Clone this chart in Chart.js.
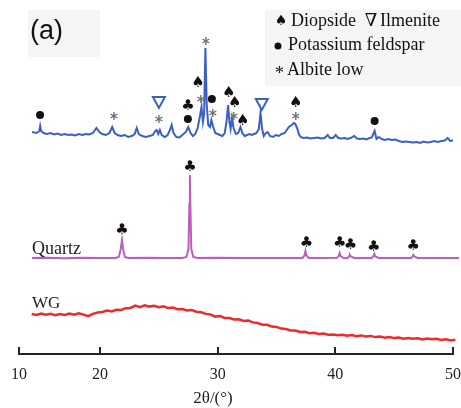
<!DOCTYPE html>
<html>
<head>
<meta charset="utf-8">
<script src="https://cdn.jsdelivr.net/npm/chart.js@4.4.0/dist/chart.umd.min.js"></script>
<style>
  html, body { margin: 0; padding: 0; background: #fff; }
  #wrap { width: 461px; height: 408px; position: relative; }
</style>
</head>
<body>
<div id="wrap"><canvas id="xrdChart"></canvas></div>
<script>
// x axis: the drawn axis starts a little above 13 but is labelled 10
const xTickValues = [13.12, 20, 30, 40, 50];
const xTickLabels = ['10', '20', '30', '40', '50'];

// sample (a) pattern, intensity in a.u. (offset stack)
const sampleTheta = [14.23, 14.6, 14.85, 14.92, 15.0, 15.2, 15.5, 15.8, 16.1, 16.4, 16.7, 17.0, 17.3, 17.6, 17.9, 18.2, 18.5, 18.8, 19.1, 19.4,
  19.7, 19.95, 20.2, 20.5, 20.8, 21.04, 21.25, 21.5, 21.8, 22.1, 22.4, 22.7, 22.95, 23.12, 23.3, 23.6, 23.9, 24.2, 24.5, 24.7,
  24.82, 24.95, 25.09, 25.25, 25.5, 25.75, 25.95, 26.09, 26.25, 26.5, 26.75, 27.0, 27.3, 27.5, 27.7, 27.9, 28.1, 28.3, 28.5, 28.63,
  28.75, 28.85, 28.96, 29.07, 29.2, 29.35, 29.47, 29.6, 29.8, 30.0, 30.2, 30.4, 30.6, 30.75, 30.89, 31.0, 31.1, 31.22, 31.35, 31.55,
  31.75, 31.94, 32.1, 32.3, 32.5, 32.7, 32.9, 33.1, 33.3, 33.5, 33.64, 33.78, 33.92, 34.1, 34.25, 34.45, 34.7, 34.95, 35.2, 35.45,
  35.7, 35.87, 36.05, 36.3, 36.47, 36.6, 36.75, 36.9, 37.05, 37.3, 37.6, 37.9, 38.2, 38.5, 38.8, 39.1, 39.35, 39.55, 39.8, 40.03,
  40.25, 40.5, 40.8, 41.05, 41.3, 41.6, 41.85, 42.1, 42.4, 42.65, 42.9, 43.1, 43.34, 43.5, 43.7, 43.95, 44.2, 44.5, 44.8, 45.1,
  45.4, 45.7, 46.0, 46.3, 46.6, 46.9, 47.2, 47.5, 47.8, 48.1, 48.4, 48.7, 49.0, 49.3, 49.55, 49.75, 50.0, 50.3];
const sampleIntensity = [222, 221, 223, 228, 223, 221, 220, 221, 219.5, 220.5, 219, 220, 219, 219.5, 218.5, 220, 219, 220, 219.5, 221,
  226, 222, 220, 219, 221, 227, 221, 219, 218, 219, 217, 218, 220, 226, 220, 218, 217, 218, 219, 223,
  224, 220, 224, 219, 217, 219, 224, 229, 221, 217, 216.5, 219, 222, 227, 221, 218, 220, 226, 238, 247,
  232, 240, 306, 250, 229, 227, 234, 228, 221, 220, 219, 218, 221, 232, 249, 232, 225, 236, 226, 220,
  221, 227, 221, 218, 219, 220, 219, 220, 221, 225, 241, 225, 218, 221, 222, 218, 217, 219, 218, 220,
  221, 224, 227, 229, 231, 230, 226, 220, 217, 216, 216.5, 215.5, 216, 216.5, 215.5, 216, 219, 216, 216, 219,
  216, 215.5, 216, 215, 216, 218, 215.5, 215, 215.5, 214.5, 216, 216.5, 223, 215, 217, 215, 214, 215, 214, 214.5,
  213, 212, 212.5, 212, 211.5, 212, 211, 212.5, 211.5, 212, 213, 212, 213, 213.5, 216, 213, 213.5, 213];

// quartz reference pattern
const quartzTheta = [14.23, 15.5, 17, 18.5, 20, 21.3, 21.6, 21.75, 21.87, 21.98, 22.12, 22.4, 24, 25.5, 27.0, 27.35, 27.52, 27.6, 27.64, 27.68,
  27.76, 27.93, 28.3, 30, 32, 34, 36, 37.2, 37.38, 37.46, 37.55, 37.75, 39, 40.15, 40.3, 40.37, 40.45, 40.7, 41.05, 41.18,
  41.24, 41.32, 41.6, 43.1, 43.25, 43.32, 43.4, 43.7, 45, 46.45, 46.58, 46.63, 46.7, 47, 48.5, 50.5];
const quartzIntensity = [96, 96.3, 95.8, 96.2, 96, 96.1, 97, 104, 114, 104, 97, 96, 96.2, 95.9, 96, 97, 105, 150, 179, 150,
  105, 97, 96, 96.2, 95.9, 96.1, 96, 96.1, 98.5, 103, 98.5, 96, 96, 96.2, 98.5, 101, 98, 96, 96.1, 98,
  99, 97.5, 96, 96, 98, 100, 97.5, 96, 96.1, 96, 98, 99, 97.5, 96, 96.1, 96];

// WG (amorphous hump)
const wgTheta = [14.2, 14.6, 15.0, 15.4, 15.8, 16.2, 16.6, 17.0, 17.4, 17.8, 18.2, 18.6, 19.0, 19.4, 19.8, 20.2, 20.6, 21.0, 21.4, 21.8,
  22.2, 22.6, 23.0, 23.4, 23.8, 24.2, 24.6, 25.0, 25.4, 25.8, 26.2, 26.6, 27.0, 27.4, 27.8, 28.2, 28.6, 29.0, 29.4, 29.8,
  30.2, 30.6, 31.0, 31.4, 31.8, 32.2, 32.6, 33.0, 33.4, 33.8, 34.2, 34.6, 35.0, 35.4, 35.8, 36.2, 36.6, 37.0, 37.4, 37.8,
  38.2, 38.6, 39.0, 39.4, 39.8, 40.2, 40.6, 41.0, 41.4, 41.8, 42.2, 42.6, 43.0, 43.4, 43.8, 44.2, 44.6, 45.0, 45.4, 45.8,
  46.2, 46.6, 47.0, 47.4, 47.8, 48.2, 48.6, 49.0, 49.4, 49.8, 50.2];
const wgIntensity = [40, 39, 40.5, 39.2, 40.3, 38.8, 40, 39.1, 40.4, 39.3, 40.6, 39.4, 37.8, 40.2, 41.5, 42.1, 43.4, 42.6, 44.3, 44.0,
  45.8, 46.1, 48.4, 46.9, 48.6, 47.4, 48.3, 46.8, 47.6, 45.9, 46.4, 44.7, 45.0, 43.6, 43.9, 42.2, 41.8, 40.1, 39.5, 37.4,
  37.9, 36.1, 35.9, 34.6, 34.8, 33.1, 33.4, 31.6, 31.0, 29.3, 29.2, 27.4, 27.1, 25.4, 25.0, 23.6, 23.5, 22.1, 22.3, 20.8,
  21.2, 20.1, 20.4, 19.2, 19.6, 18.7, 19.3, 18.2, 18.9, 17.8, 18.6, 17.5, 18.1, 16.9, 17.4, 16.3, 17.0, 15.9, 16.4, 15.3,
  16.1, 15.2, 15.8, 14.6, 15.5, 14.7, 15.2, 14.1, 14.8, 13.6, 14.2];

// phase marks [2theta, height]
const diopsideMarks = [[28.32, 271], [30.95, 261], [31.46, 251], [32.14, 233], [36.64, 251]];
const ilmeniteMarks = [[25.01, 252], [33.75, 250]];
const feldsparMarks = [[14.91, 239], [27.47, 235], [29.51, 255], [43.34, 233]];
const albiteMarks = [[21.19, 238], [25.01, 235], [28.57, 255], [29.0, 313], [29.59, 241], [31.38, 238], [36.64, 238]];
const quartzMarks = [[27.47, 248], [21.87, 124], [27.64, 187], [37.54, 111], [40.37, 111], [41.28, 109], [43.26, 107], [46.63, 108]];

const BLUE = '#3b5fc4';
const SERIF = '"Liberation Serif", "DejaVu Serif", serif';

function toPoints(xs, ys) {
    return xs.map((x, i) => ({ x: x, y: ys[i] }));
}

function drawSuit(ctx, ch, px, py, size) {
    ctx.font = size + 'px "DejaVu Sans"';
    ctx.fillStyle = '#111';
    ctx.textAlign = 'center';
    ctx.textBaseline = 'middle';
    ctx.fillText(ch, px, py);
}

function drawDot(ctx, px, py, r) {
    ctx.fillStyle = '#111';
    ctx.beginPath();
    ctx.arc(px, py, r, 0, Math.PI * 2);
    ctx.fill();
}

function drawStar(ctx, px, py) {
    ctx.strokeStyle = '#707070';
    ctx.lineWidth = 1.4;
    ctx.beginPath();
    for (let k = 0; k < 3; k++) {
        const a = Math.PI / 2 + k * Math.PI / 3;
        ctx.moveTo(px - 4 * Math.cos(a), py - 4 * Math.sin(a));
        ctx.lineTo(px + 4 * Math.cos(a), py + 4 * Math.sin(a));
    }
    ctx.stroke();
}

function drawTriangle(ctx, px, py) {
    ctx.strokeStyle = BLUE;
    ctx.lineWidth = 2;
    ctx.beginPath();
    ctx.moveTo(px - 6, py - 5);
    ctx.lineTo(px + 6, py - 5);
    ctx.lineTo(px, py + 6);
    ctx.closePath();
    ctx.stroke();
}

const decorPlugin = {
    id: 'decor',
    beforeDraw(chart) {
        const ctx = chart.ctx;
        ctx.save();
        ctx.fillStyle = '#f5f5f5';
        ctx.fillRect(28, 10, 72, 47);
        ctx.fillRect(265, 10, 196, 76);
        ctx.restore();
    },
    afterDatasetsDraw(chart) {
        const ctx = chart.ctx;
        const xs = chart.scales.x, ys = chart.scales.y;
        const P = (m) => [xs.getPixelForValue(m[0]), ys.getPixelForValue(m[1])];
        ctx.save();
        diopsideMarks.forEach(m => { const p = P(m); drawSuit(ctx, '♠', p[0], p[1], 15); });
        quartzMarks.forEach(m => { const p = P(m); drawSuit(ctx, '♣', p[0], p[1], 15); });
        feldsparMarks.forEach(m => { const p = P(m); drawDot(ctx, p[0], p[1], 4); });
        albiteMarks.forEach(m => { const p = P(m); drawStar(ctx, p[0], p[1]); });
        ilmeniteMarks.forEach(m => { const p = P(m); drawTriangle(ctx, p[0], p[1]); });

        // curve names
        ctx.fillStyle = '#222';
        ctx.font = '18px ' + SERIF;
        ctx.textAlign = 'left';
        ctx.textBaseline = 'alphabetic';
        ctx.fillText('Quartz', xs.getPixelForValue(14.23), ys.getPixelForValue(quartzIntensity[0]) - 4);
        ctx.font = '17px ' + SERIF;
        ctx.fillText('WG', xs.getPixelForValue(14.23), ys.getPixelForValue(wgIntensity[0]) - 6);
        ctx.restore();
    },
    afterDraw(chart) {
        const ctx = chart.ctx;
        const xs = chart.scales.x;
        const axisY = chart.chartArea.bottom;
        ctx.save();
        // inward tick marks
        ctx.strokeStyle = '#222';
        ctx.lineWidth = 2;
        xs.ticks.forEach(t => {
            const px = Math.round(xs.getPixelForValue(t.value));
            ctx.beginPath();
            ctx.moveTo(px, axisY);
            ctx.lineTo(px, axisY - 7);
            ctx.stroke();
        });

        // axis title
        ctx.fillStyle = '#222';
        ctx.font = '17px ' + SERIF;
        ctx.textAlign = 'center';
        ctx.textBaseline = 'middle';
        ctx.fillText('2θ/(°)', 213, 399);

        // panel label
        ctx.font = '27px "Liberation Sans", Arial, sans-serif';
        ctx.fillStyle = '#111';
        ctx.textAlign = 'left';
        ctx.fillText('(a)', 30, 32);

        // legend
        drawSuit(ctx, '♠', 281, 21, 14);
        ctx.fillStyle = '#111';
        ctx.font = '18px ' + SERIF;
        ctx.textAlign = 'left';
        ctx.textBaseline = 'middle';
        ctx.fillText('Diopside', 291, 21);
        ctx.font = '18px "DejaVu Serif"';
        ctx.textAlign = 'center';
        ctx.fillText('∇', 371, 21);
        ctx.font = '18px ' + SERIF;
        ctx.textAlign = 'left';
        ctx.fillText('Ilmenite', 380, 21);
        drawDot(ctx, 278, 46, 3.5);
        ctx.fillStyle = '#111';
        ctx.fillText('Potassium feldspar', 288, 45);
        ctx.fillText('*', 275, 74);
        ctx.fillText('Albite low', 287, 70);
        ctx.restore();
    }
};

document.addEventListener('DOMContentLoaded', () => {
    const ctx = document.getElementById('xrdChart').getContext('2d');
    new Chart(ctx, {
        type: 'line',
        data: {
            datasets: [
                { label: '(a)', data: toPoints(sampleTheta, sampleIntensity), borderColor: BLUE, borderWidth: 2 },
                { label: 'Quartz', data: toPoints(quartzTheta, quartzIntensity), borderColor: '#bb5fbb', borderWidth: 2 },
                { label: 'WG', data: toPoints(wgTheta, wgIntensity), borderColor: '#ee2a2a', borderWidth: 2.5 }
            ]
        },
        options: {
            responsive: true,
            maintainAspectRatio: false,
            animation: false,
            devicePixelRatio: 1,
            layout: { padding: { top: 34, left: 19, right: 8, bottom: 0 } },
            elements: { point: { radius: 0 }, line: { tension: 0 } },
            datasets: { line: { clip: false } },
            plugins: { legend: { display: false }, tooltip: { enabled: false } },
            scales: {
                x: {
                    type: 'linear',
                    min: xTickValues[0],
                    max: xTickValues[xTickValues.length - 1],
                    afterBuildTicks: (scale) => { scale.ticks = xTickValues.map(v => ({ value: v })); },
                    afterFit: (scale) => {
                        scale.height = 54;
                        scale.paddingLeft = 0;
                        scale.paddingRight = 0;
                    },
                    grid: { display: false, drawTicks: false },
                    border: { display: true, color: '#222', width: 2 },
                    ticks: {
                        padding: 11,
                        color: '#222',
                        font: { family: SERIF, size: 16 },
                        maxRotation: 0,
                        callback: (value, index) => xTickLabels[index]
                    }
                },
                y: { type: 'linear', min: 0, max: 320, display: false }
            }
        },
        plugins: [decorPlugin]
    });
});
</script>
</body>
</html>
